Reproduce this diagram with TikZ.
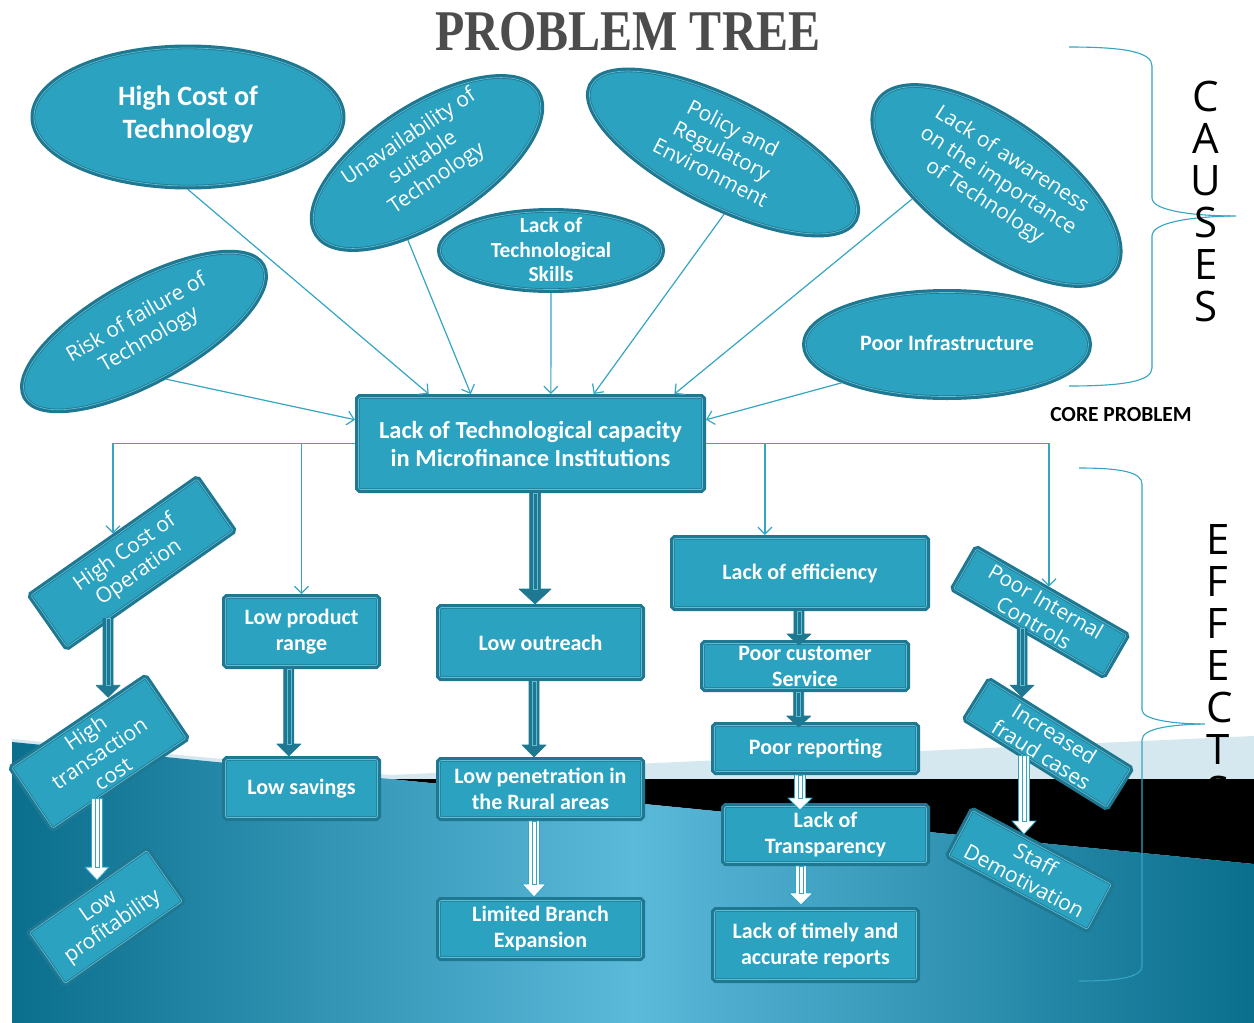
\documentclass[tikz,border=0pt]{standalone}
\usepackage{fontspec}
\usepackage{graphicx}
\usetikzlibrary{shapes.geometric,arrows.meta,calc}
\newfontfamily\carl{Carlito}
\newfontfamily\osans{Open Sans}
\newfontfamily\tserif{Liberation Serif}

\definecolor{tealf}{HTML}{2BA2BF}
\definecolor{darkb}{HTML}{1F7891}
\definecolor{lightb}{HTML}{62BCD4}
\definecolor{connc}{HTML}{34A5C3}
\definecolor{bandc}{HTML}{D5E8EF}
\definecolor{bgdark}{HTML}{0A6E8D}
\definecolor{bglight}{HTML}{5BB9DA}

\tikzset{
  frame/.style={fill=tealf, preaction={draw=darkb, line width=7pt},
    postaction={draw=darkb, line width=0.8pt, double=lightb, double distance=0.7pt},
    inner sep=0pt, outer sep=3.5pt, text=white},
  ell/.style={frame, ellipse},
  box/.style={frame, rectangle, rounded corners=1.5pt, align=center,
    font=\carl\bfseries\fontsize{22}{26}\selectfont},
  rbox/.style={frame, rectangle, rounded corners=1.5pt, align=center,
    font=\osans\fontsize{21}{24.5}\selectfont},
  etxt/.style={text=white, align=center, inner sep=0pt},
  otxt/.style={etxt, font=\osans\fontsize{21}{25}\selectfont},
  ctxt/.style={etxt, font=\carl\bfseries\fontsize{22}{25}\selectfont},
  conn/.style={draw=connc, line width=1.2pt, -{Straight Barb[length=7pt,width=14pt]}},
  brace/.style={draw=connc, line width=1.1pt},
  blk/.style args={#1/#2/#3}{to path={let \p1=(\tikztostart), \p2=(\tikztotarget) in
     ({\x1-#1},\y1) -- ({\x1-#1},{\y2+#3}) -- ({\x1-#2},{\y2+#3}) -- (\x1,\y2)
     -- ({\x1+#2},{\y2+#3}) -- ({\x1+#1},{\y2+#3}) -- ({\x1+#1},\y1) -- cycle}},
  blkin/.style args={#1/#2}{to path={let \p1=(\tikztostart), \p2=(\tikztotarget) in
     ({\x1-#1},\y1) rectangle ({\x1+#1},{\y2+#2})}},
  darkarr/.style={fill=darkb, draw=darkb, line width=0.6pt, line join=round},
  darkin/.style={draw=lightb, line width=0.5pt},
  whitearr/.style={fill=white, draw=connc, line width=0.8pt, line join=round},
  whitein/.style={draw=connc, line width=0.5pt},
  letters/.style={inner sep=0pt, text=black, font=\osans\fontsize{42}{42}\selectfont},
}

\begin{document}
\begin{tikzpicture}[x=1pt,y=-1pt]
\useasboundingbox (0,0) rectangle (1254,1023);
\fill[white] (0,0) rectangle (1254,1023);

% background bands
\fill[bandc] (12,739) -- (390,775) -- (1254,736) -- (1254,1023) -- (12,1023) -- cycle;
\fill[black] (390,779) -- (1254,779) -- (1254,864) -- cycle;
\shade[left color=bgdark, right color=bgdark, middle color=bglight]
  (12,742) -- (390,779) -- (1254,864) -- (1254,1023) -- (12,1023) -- cycle;

% braces
\draw[brace] (1069,47) .. controls (1125,47) and (1152,52) .. (1152,66) -- (1152,198)
  .. controls (1152,211) and (1195,216) .. (1236,216);
\draw[brace] (1230,216) .. controls (1192,217) and (1152,222) .. (1152,236) -- (1152,368)
  .. controls (1152,381) and (1125,386) .. (1069,386);
\draw[brace] (1079,468) .. controls (1120,468) and (1142,472) .. (1142,484) -- (1142,710)
  .. controls (1142,720) and (1175,724) .. (1205,724);
\draw[brace] (1200,724) .. controls (1172,725) and (1142,728) .. (1142,740) -- (1142,966)
  .. controls (1142,977) and (1120,981) .. (1079,981);

% side labels
\node[letters, align=center] (causes) at (1206,201) {C\\A\\U\\S\\E\\S};
\node[letters, align=left] (effects) at (1220,666) {E\\F\\F\\E\\C\\T\\S};
\node[inner sep=0pt, font=\carl\bfseries\fontsize{21.5}{24}\selectfont] (corelbl) at (1121,415) {CORE PROBLEM};

% title
\node[inner sep=0pt, text=black!70, font=\tserif\bfseries\fontsize{48}{48}\selectfont] (title) at (628,32) {\scalebox{1}[1.2]{PROBLEM TREE}};

% cause ellipses
\node[ell, minimum width=308, minimum height=138] (e1) at (188,117) {};
\node[ell, rotate=33, minimum width=261, minimum height=113] (e2) at (427,163) {};
\node[ell, minimum width=221, minimum height=78] (e3) at (551,250.5) {};
\node[ell, rotate=-27, minimum width=295, minimum height=104] (e4) at (723,152.5) {};
\node[ell, rotate=-36, minimum width=289, minimum height=125] (e5) at (996.5,185.5) {};
\node[ell, minimum width=283, minimum height=104] (e6) at (947,344.5) {};
\node[ell, rotate=29, minimum width=270, minimum height=98] (e7) at (144,331.5) {};

\node[etxt, font=\carl\bfseries\fontsize{28}{33}\selectfont] (e1t) at (188,115) {High Cost of\\Technology};
\node[otxt, rotate=34] (e2t) at (423,158) {Unavailability of\\suitable\\Technology};
\node[etxt, font=\carl\bfseries\fontsize{21.5}{24.5}\selectfont] (e3t) at (551,250) {Lack of\\Technological\\Skills};
\node[otxt, rotate=-27] (e4t) at (722,150) {Policy and\\Regulatory\\Environment};
\node[otxt, rotate=-33] (e5t) at (998,181) {Lack of awareness\\on the importance\\of Technology};
\node[ctxt] (e6t) at (947,343) {Poor Infrastructure};
\node[otxt, rotate=30] (e7t) at (143,329) {Risk of failure of\\Technology};

% core problem
\node[box, minimum width=344, minimum height=92, font=\carl\bfseries\fontsize{24.5}{28}\selectfont] (core) at (530.5,443.5) {Lack of Technological capacity\\in Microfinance Institutions};

% effect boxes
\node[rbox, rotate=35, minimum width=203, minimum height=63] (hco) at (132,563) {High Cost of\\Operation};
\node[rbox, rotate=34, minimum width=161, minimum height=73] (ht) at (99,753) {High\\transaction\\cost};
\node[rbox, rotate=35, minimum width=143, minimum height=62] (lp) at (106,917) {Low\\profitability};
\node[box, minimum width=152, minimum height=68] (lpr) at (301.5,631.5) {Low product\\range};
\node[box, minimum width=152, minimum height=58] (ls) at (301.5,788.5) {Low savings};
\node[box, minimum width=202, minimum height=70] (lo) at (540.5,642.5) {Low outreach};
\node[box, minimum width=202, minimum height=57] (lpen) at (540.5,789) {Low penetration in\\the Rural areas};
\node[box, minimum width=202, minimum height=57] (lbe) at (540.5,929) {Limited Branch\\Expansion};
\node[box, minimum width=253, minimum height=69] (loe) at (800,573) {Lack of efficiency};
\node[box, minimum width=203, minimum height=45] (pcs) at (805,666) {Poor customer\\Service};
\node[box, minimum width=202, minimum height=46] (pr) at (815.5,748.5) {Poor reporting};
\node[box, minimum width=202, minimum height=56] (lot) at (825.5,834.5) {Lack of\\Transparency};
\node[box, minimum width=202, minimum height=69] (ltr) at (815.5,945) {Lack of timely and\\accurate reports};
\node[rbox, rotate=-30, minimum width=173, minimum height=46] (pic) at (1040,612) {Poor Internal\\Controls};
\node[rbox, rotate=-32, minimum width=166, minimum height=45] (ifc) at (1048,744) {Increased\\fraud cases};
\node[rbox, rotate=-28, minimum width=157, minimum height=51] (sd) at (1030,870) {Staff\\Demotivation};

% connector end points on the core box
\coordinate (ct1) at ($(core.north west)!0.21!(core.north east)$);
\coordinate (ct2) at ($(core.north west)!0.33!(core.north east)$);
\coordinate (ct3) at ($(core.north west)!0.558!(core.north east)$);
\coordinate (ct4) at ($(core.north west)!0.68!(core.north east)$);
\coordinate (ct5) at ($(core.north west)!0.91!(core.north east)$);
\coordinate (cl) at ($(core.north west)!0.26!(core.south west)$);
\coordinate (cr) at ($(core.north east)!0.26!(core.south east)$);

% cause connectors
\draw[conn] (e1.south) -- (ct1);
\draw[conn] (e2.223) -- (ct2);
\draw[conn] (e3.south) -- (ct3);
\draw[conn] (e4.298) -- (ct4);
\draw[conn] (e5.225) -- (ct5);
\draw[conn] (e6.200) -- (cr);
\draw[conn] (e7.266) -- (cl);

% effect connectors
\coordinate (hcoin) at ($(hco.north west)!0.506!(hco.north east)$);
\coordinate (loein) at ($(loe.north west)!0.365!(loe.north east)$);
\coordinate (picin) at ($(pic.north west)!0.473!(pic.north east)$);
\draw[conn] (core.west) -| (hcoin);
\draw[conn] (core.west) -| (lpr.north);
\draw[conn] (core.east) -| (loein);
\draw[conn] (core.east) -| (picin);

% block arrow end points
\coordinate (a1s) at ($(core.south west)!0.513!(core.south east)$);
\coordinate (a2s) at ($(lo.south west)!0.469!(lo.south east)$);
\coordinate (a3s) at ($(lpen.south west)!0.469!(lpen.south east)$);
\coordinate (a4s) at ($(lpr.south west)!0.42!(lpr.south east)$);
\coordinate (a5s) at ([yshift=4pt]$(hco.south west)!0.244!(hco.south east)$);
\coordinate (a5e) at ($(ht.north west)!0.74!(ht.north east)$);
\coordinate (a6s) at ([yshift=4pt]$(ht.south west)!0.325!(ht.south east)$);
\coordinate (a6e) at ($(lp.north west)!0.6!(lp.north east)$);
\coordinate (a7s) at ($(loe.south west)!0.496!(loe.south east)$);
\coordinate (a7e) at ([yshift=-5pt]pcs.north);
\coordinate (a8s) at ($(pcs.south west)!0.47!(pcs.south east)$);
\coordinate (a8e) at ([yshift=-5pt]pr.north);
\coordinate (a9s) at ($(pr.south west)!0.426!(pr.south east)$);
\coordinate (a9e) at ([yshift=-7pt]lot.north);
\coordinate (a10s) at ($(lot.south west)!0.383!(lot.south east)$);
\coordinate (a10e) at ([yshift=2pt]ltr.north);
\coordinate (a11s) at ([yshift=4pt]$(pic.south west)!0.47!(pic.south east)$);
\coordinate (a11e) at ($(ifc.north west)!0.229!(ifc.north east)$);
\coordinate (a12s) at ([yshift=4pt]$(ifc.south west)!0.43!(ifc.south east)$);
\coordinate (a12e) at ($(sd.north west)!0.365!(sd.north east)$);

% dark block arrows
\draw[darkarr, blk=5.5pt/16pt/15pt] (a1s) to (lo.north);
\draw[darkin, blkin=2.2pt/15pt] (a1s) to (lo.north);
\draw[darkarr, blk=5pt/12pt/12pt] (a2s) to (lpen.north);
\draw[darkin, blkin=2pt/12pt] (a2s) to (lpen.north);
\draw[darkarr, blk=5pt/12pt/12pt] (a4s) to (ls.north);
\draw[darkin, blkin=2pt/12pt] (a4s) to (ls.north);
\draw[darkarr, blk=5pt/12pt/12pt] (a5s) to (a5e);
\draw[darkin, blkin=2pt/12pt] (a5s) to (a5e);
\draw[darkarr, blk=5pt/12pt/11pt] (a7s) to (a7e);
\draw[darkin, blkin=2pt/11pt] (a7s) to (a7e);
\draw[darkarr, blk=5pt/12pt/11pt] (a8s) to (a8e);
\draw[darkin, blkin=2pt/11pt] (a8s) to (a8e);
\draw[darkarr, blk=5pt/12pt/12pt] (a11s) to (a11e);
\draw[darkin, blkin=2pt/12pt] (a11s) to (a11e);

% white block arrows
\draw[whitearr, blk=5.5pt/12pt/13pt] (a3s) to (lbe.north);
\draw[whitein, blkin=2pt/13pt] (a3s) to (lbe.north);
\draw[whitearr, blk=5.5pt/12pt/13pt] (a6s) to (a6e);
\draw[whitein, blkin=2pt/13pt] (a6s) to (a6e);
\draw[whitearr, blk=5.5pt/12pt/12pt] (a9s) to (a9e);
\draw[whitein, blkin=2pt/12pt] (a9s) to (a9e);
\draw[whitearr, blk=5.5pt/12pt/12pt] (a10s) to (a10e);
\draw[whitein, blkin=2pt/12pt] (a10s) to (a10e);
\draw[whitearr, blk=5.5pt/12pt/13pt] (a12s) to (a12e);
\draw[whitein, blkin=2pt/13pt] (a12s) to (a12e);
\end{tikzpicture}
\end{document}
